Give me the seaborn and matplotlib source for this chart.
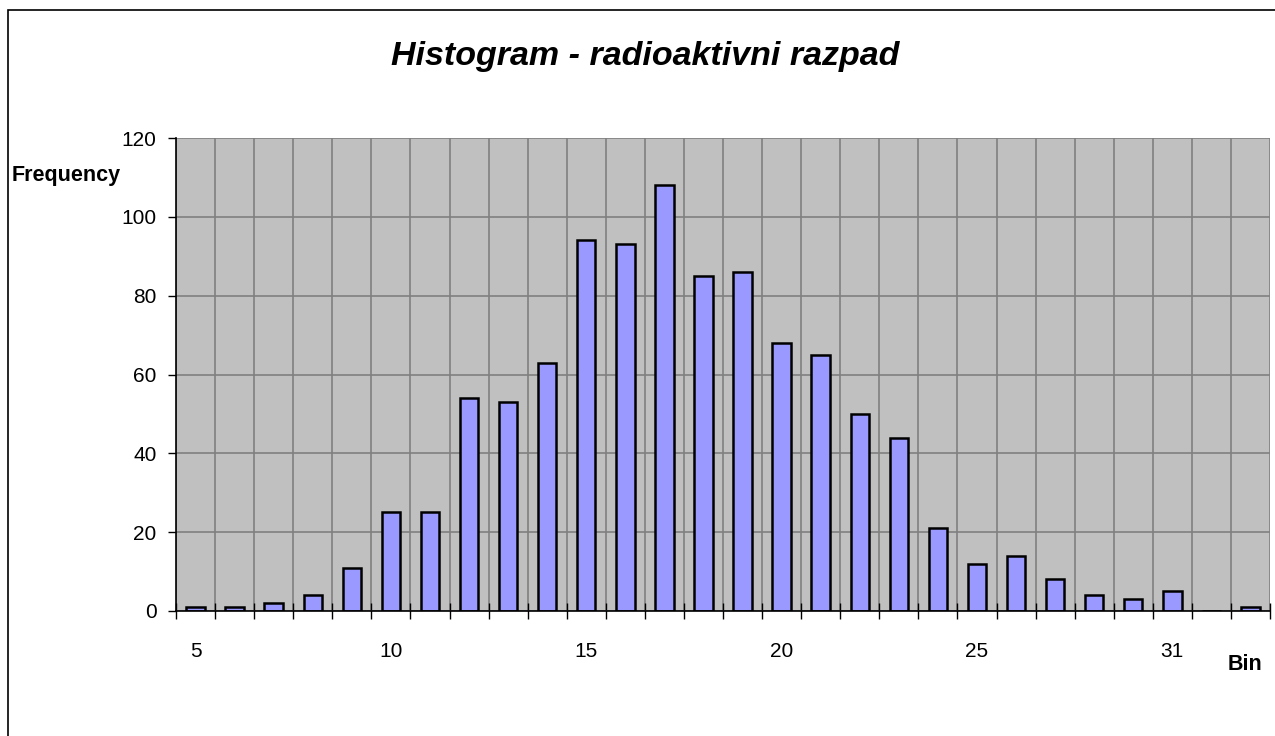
import numpy as np
import matplotlib
matplotlib.use("Agg")
import matplotlib.pyplot as plt
import seaborn as sns
from matplotlib.patches import Rectangle

# Histogram data (bins and counts)
bins = [str(b) for b in range(5, 30)] + ["31", "32", "33"]
counts = [1, 1, 2, 4, 11, 25, 25, 54, 53, 63, 94, 93, 108, 85, 86,
          68, 65, 50, 44, 21, 12, 14, 8, 4, 3, 5, 0, 1]
y_ticks = [0, 20, 40, 60, 80, 100, 120]

sns.set_theme(style="white")
plt.rcParams['font.family'] = ['Liberation Sans', 'DejaVu Sans']
plt.rcParams['text.color'] = 'black'
plt.rcParams['xtick.color'] = 'black'
plt.rcParams['ytick.color'] = 'black'

fig = plt.figure(figsize=(12.75, 7.36), dpi=100)
ax = fig.add_axes([176/1275, 1 - 611/736, (1270 - 176)/1275, (611 - 138)/736])

# outer chart border
fig.patches.append(Rectangle((8/1275, -0.1), 1.2, 1.1 - 10/736, transform=fig.transFigure,
                             fill=False, edgecolor='black', linewidth=1.2))

ax.set_facecolor('#C0C0C0')
sns.barplot(x=bins, y=counts, order=bins, color='#9999FF', saturation=1,
            edgecolor='black', linewidth=1.8, width=0.47, ax=ax, zorder=3)

n = len(bins)
ax.set_xlim(-0.5, n - 0.5)
ax.set_ylim(0, 120)

# labels every 5th bin, tick marks at bin boundaries
ax.set_xticks(np.arange(0, n, 5))
ax.set_xticklabels(bins[::5])
ax.set_xticks(np.arange(-0.5, n, 1), minor=True)
ax.tick_params(axis='x', which='major', length=0, pad=22, labelsize=15,
               labelcolor='black')
ax.tick_params(axis='x', which='minor', direction='inout', length=11,
               width=1, color='black', bottom=True)
ax.set_yticks(y_ticks)
ax.tick_params(axis='y', which='major', direction='out', length=6, width=1,
               color='black', left=True, pad=8, labelsize=15, labelcolor='black')

ax.grid(False)
ax.grid(True, which='minor', axis='x', color='#808080', linewidth=1.2, zorder=0)
ax.grid(True, which='major', axis='y', color='#808080', linewidth=1.2, zorder=0)
ax.set_axisbelow(True)

for s in ['top', 'right']:
    ax.spines[s].set_visible(False)
for s in ['left', 'bottom']:
    ax.spines[s].set_color('black')
    ax.spines[s].set_linewidth(1.2)
    ax.spines[s].set_zorder(4)

ax.set_xlabel("")
ax.set_ylabel("")

fig.text(645/1275, 1 - 56/736, "Histogram - radioaktivni razpad", ha='center', va='center',
         fontsize=24.5, fontweight='bold', fontstyle='italic', color='black')
fig.text(12/1275, 1 - 176/736, "Frequency", ha='left', va='center',
         fontsize=15.5, fontweight='bold', color='black')
fig.text(1245/1275, 1 - 665/736, "Bin", ha='center', va='center',
         fontsize=15.5, fontweight='bold', color='black')

fig.savefig("out.png", dpi=100, facecolor='white')
